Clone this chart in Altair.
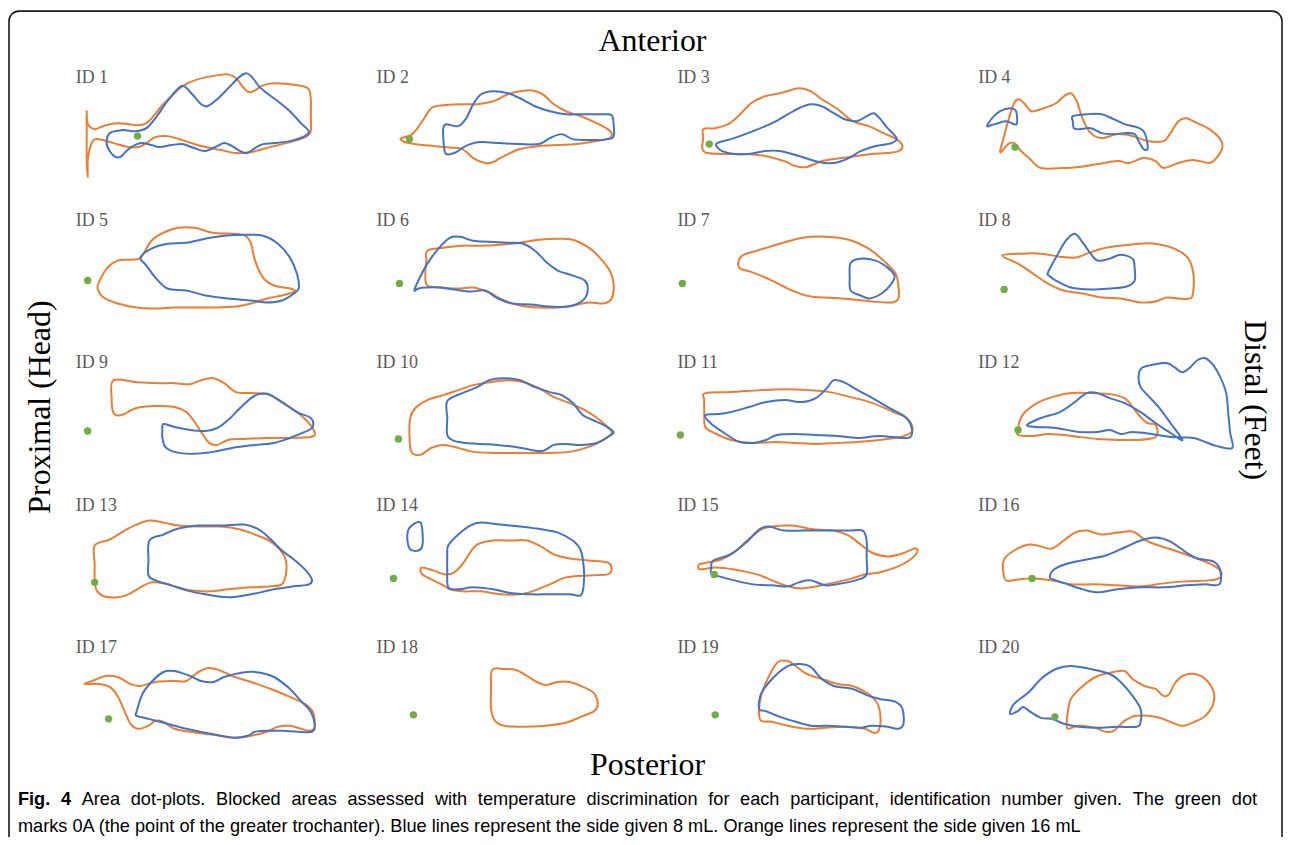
import altair as alt
import pandas as pd

# ---------------- data: outlines in each panel's local frame (x right, y down) ----------------
ID1_8 = [(40,72),(52,69),(67,70),(77,67),(86,57),(98,40),(109,27),(115,25),(123,33),(132,43),(138,45),(148,38),(159,27),(171,15),(178,12),(184,17),(190,25),(198,32),(209,40),(221,50),(232,62),(240,70),(236,75),(221,80),(205,82),(194,83),(186,87),(178,92),(171,90),(163,85),(155,82),(148,85),(136,90),(125,87),(113,83),(102,84),(90,86),(82,84),(71,82),(59,88),(52,95),(46,96),(40,90),(37,82)]
ID1_16 = [(17,50),(18,62),(25,68),(36,64),(48,62),(59,63),(69,64),(77,62),(84,55),(92,45),(102,35),(113,25),(128,18),(148,14),(159,13),(167,17),(175,27),(180,31),(186,29),(194,24),(205,22),(221,23),(234,25),(240,28),(242,37),(242,53),(242,70),(238,75),(225,80),(205,85),(182,91),(167,92),(152,89),(132,85),(113,79),(98,75),(86,76),(77,82),(69,86),(59,86),(44,82),(28,78),(23,80),(20,88),(18,100),(18,116),(17,100),(17,83),(17,67)]
ID2_8 = [(73,67),(76,63),(88,65),(96,57),(103,43),(111,33),(123,30),(138,32),(150,37),(165,45),(180,50),(196,53),(215,53),(234,53),(242,54),(244,63),(244,75),(238,78),(219,79),(203,78),(192,73),(180,77),(169,83),(150,83),(130,82),(111,81),(100,83),(92,87),(84,92),(76,93),(74,88),(73,77)]
ID2_16 = [(31,77),(42,73),(52,60),(61,47),(73,44),(92,43),(107,43),(123,40),(138,33),(150,30),(161,29),(173,33),(184,43),(196,50),(211,55),(227,62),(238,68),(242,72),(240,77),(227,80),(207,83),(188,84),(169,85),(150,88),(134,95),(123,101),(115,102),(103,97),(92,88),(73,86),(53,84),(38,82),(31,79)]
ID3_8 = [(46,82),(63,77),(82,70),(101,62),(117,53),(128,47),(140,43),(151,45),(163,52),(174,58),(186,60),(196,55),(203,52),(209,57),(217,67),(226,77),(221,82),(205,85),(190,90),(178,97),(163,102),(148,101),(128,95),(109,90),(94,90),(78,93),(63,93),(51,90),(46,86)]
ID3_16 = [(32,68),(44,67),(57,63),(69,53),(80,42),(94,35),(109,32),(128,27),(140,30),(151,38),(167,48),(182,60),(198,65),(213,72),(226,78),(232,85),(228,90),(217,92),(201,93),(186,95),(171,97),(151,100),(136,106),(124,105),(113,100),(94,95),(75,93),(55,93),(36,92),(31,87),(32,77)]
ID4_8A = [(15,65),(20,57),(28,50),(38,47),(44,50),(45,62),(42,63),(34,60),(26,62),(19,64)]
ID4_8B = [(101,55),(115,53),(130,53),(142,58),(153,63),(165,66),(172,70),(175,78),(176,88),(172,88),(167,80),(163,73),(153,72),(142,73),(130,72),(119,67),(107,68),(102,67),(101,60)]
ID4_16 = [(28,90),(32,75),(36,60),(42,42),(47,38),(53,43),(59,50),(69,48),(84,42),(92,35),(99,32),(105,40),(111,58),(119,72),(130,77),(146,73),(161,75),(176,80),(192,80),(199,72),(207,60),(215,57),(226,62),(238,68),(249,78),(251,87),(245,97),(238,102),(222,99),(207,102),(192,107),(184,100),(172,97),(157,102),(146,100),(126,103),(107,106),(92,107),(69,107),(57,97),(49,90),(42,82),(36,83),(30,90)]
ID5_8 = [(71,54),(82,45),(98,40),(117,39),(136,35),(155,32),(175,31),(194,32),(209,40),(221,54),(228,70),(230,84),(225,90),(213,97),(198,99),(182,97),(159,95),(136,92),(117,87),(98,85),(86,74),(77,62)]
ID5_16 = [(28,85),(30,77),(38,64),(48,57),(61,56),(71,54),(82,37),(94,29),(109,24),(125,24),(144,29),(163,30),(176,32),(182,40),(186,57),(194,74),(205,82),(221,85),(226,88),(213,92),(198,95),(182,100),(167,103),(144,104),(125,104),(105,104),(86,105),(67,104),(48,100),(34,94)]
ID6_8 = [(44,87),(48,77),(57,60),(69,44),(80,34),(90,33),(103,37),(119,38),(138,39),(153,40),(165,47),(177,59),(188,67),(203,72),(215,77),(218,87),(213,97),(199,103),(180,103),(161,101),(142,100),(126,94),(115,87),(100,88),(84,86),(69,84),(55,84),(48,85)]
ID6_16 = [(57,47),(73,44),(92,42),(111,42),(130,41),(150,39),(169,36),(188,35),(203,36),(219,44),(230,54),(240,67),(244,80),(242,95),(234,100),(219,99),(203,102),(188,104),(169,104),(150,102),(134,97),(119,89),(103,84),(88,85),(73,84),(57,82),(55,70),(56,57)]
ID7_8 = [(180,59),(190,55),(205,57),(217,64),(224,72),(221,80),(211,90),(199,95),(190,92),(180,87),(179,74)]
ID7_16 = [(67,60),(71,52),(86,47),(109,40),(132,34),(155,33),(178,36),(198,45),(213,57),(225,70),(228,84),(228,95),(221,99),(201,98),(171,95),(140,93),(121,87),(101,77),(82,69),(69,65)]
ID8_8 = [(76,69),(84,54),(94,37),(103,30),(111,39),(119,50),(126,57),(138,55),(149,51),(161,55),(163,64),(163,77),(155,83),(138,85),(119,86),(99,84),(84,77),(77,72)]
ID8_16 = [(30,52),(49,50),(69,50),(88,53),(103,54),(115,50),(130,45),(149,42),(169,40),(184,40),(203,45),(217,55),(222,70),(222,87),(219,95),(207,95),(195,94),(184,98),(169,99),(149,95),(130,94),(111,90),(92,87),(76,80),(61,70),(46,60)]
ID9_8 = [(94,78),(105,81),(121,84),(136,85),(148,82),(159,74),(171,62),(182,52),(190,48),(200,48),(213,56),(228,66),(242,72),(244,81),(236,86),(221,92),(205,97),(186,99),(163,102),(144,106),(121,108),(105,106),(96,101),(93,92),(93,84)]
ID9_16 = [(44,34),(67,36),(90,37),(105,37),(121,38),(132,34),(144,32),(155,37),(167,46),(182,47),(198,48),(213,56),(228,66),(240,77),(246,87),(242,91),(221,92),(198,92),(175,93),(159,94),(148,99),(140,97),(134,89),(126,77),(117,66),(105,61),(86,60),(67,62),(52,69),(44,67),(42,52)]
ID10_8 = [(77,55),(92,47),(107,41),(119,34),(134,32),(150,34),(165,41),(180,46),(192,49),(203,57),(213,69),(223,74),(234,79),(244,86),(238,91),(227,97),(211,99),(196,98),(184,99),(173,105),(161,104),(146,101),(127,99),(111,98),(96,97),(84,95),(77,89),(77,72)]
ID10_16 = [(40,71),(46,61),(57,54),(73,49),(88,44),(103,39),(119,36),(138,34),(153,36),(169,42),(184,51),(200,57),(215,64),(226,71),(238,81),(242,87),(234,94),(219,101),(200,106),(180,107),(161,107),(142,107),(123,107),(103,106),(88,102),(73,99),(61,102),(50,109),(41,106),(39,89)]
ID11_8 = [(34,69),(47,68),(60,66),(78,61),(95,56),(114,54),(131,56),(145,52),(156,42),(163,34),(173,36),(187,44),(202,52),(219,62),(235,71),(241,81),(240,91),(230,92),(209,90),(187,92),(166,90),(145,89),(124,88),(106,89),(95,94),(82,97),(68,96),(53,87),(39,77)]
ID11_16 = [(34,47),(60,46),(89,44),(114,43),(138,44),(159,46),(180,51),(202,57),(223,66),(236,72),(242,81),(240,87),(230,91),(209,94),(187,96),(166,97),(145,98),(124,97),(103,96),(82,97),(60,94),(43,87),(34,81),(33,67),(33,54)]
ID12_8 = [(55,79),(69,72),(88,66),(103,56),(115,47),(126,47),(138,52),(153,57),(169,66),(184,77),(199,87),(211,94),(199,77),(188,62),(176,49),(169,41),(167,31),(170,22),(184,18),(196,17),(203,21),(211,26),(219,21),(226,14),(234,12),(242,19),(249,31),(255,47),(257,67),(259,87),(261,102),(245,100),(222,92),(199,91),(180,88),(161,86),(149,88),(138,84),(126,86),(107,86),(84,82),(65,81)]
ID12_16 = [(48,74),(53,66),(65,57),(80,51),(99,47),(119,47),(138,48),(153,52),(161,61),(169,71),(176,77),(184,79),(186,87),(182,92),(165,94),(146,94),(126,93),(107,91),(92,89),(76,88),(61,90),(46,89),(46,82)]
ID13_8 = [(80,52),(94,46),(109,40),(129,37),(152,37),(175,36),(190,41),(202,51),(213,62),(225,71),(236,81),(243,91),(240,96),(225,98),(205,101),(182,106),(159,109),(136,106),(117,102),(102,97),(86,92),(79,87),(79,72)]
ID13_16 = [(25,57),(40,51),(55,42),(67,36),(80,32),(94,34),(109,37),(129,38),(152,38),(171,41),(186,46),(200,52),(211,61),(217,72),(217,86),(213,96),(202,98),(182,99),(159,101),(140,103),(121,102),(105,98),(94,95),(82,94),(71,99),(59,106),(48,109),(34,108),(27,102),(25,92),(25,76)]
ID14_8A = [(38,41),(44,35),(50,34),(52,42),(52,57),(48,62),(40,61),(37,52)]
ID14_8B = [(78,57),(88,46),(100,37),(111,34),(130,36),(150,38),(173,41),(188,44),(203,52),(211,62),(214,79),(214,96),(211,107),(200,106),(180,106),(161,106),(142,105),(123,101),(103,99),(88,101),(78,99),(77,82),(77,66)]
ID14_16 = [(52,79),(63,82),(75,86),(84,84),(92,76),(100,64),(107,56),(123,52),(142,52),(157,52),(173,59),(184,66),(200,70),(219,72),(238,74),(242,81),(238,86),(219,87),(196,89),(180,96),(165,102),(150,106),(130,106),(111,103),(92,103),(80,101),(73,97),(61,91),(52,86),(50,82)]
ID15_8 = [(40,79),(42,72),(59,66),(75,54),(88,41),(98,38),(113,42),(132,42),(155,42),(178,42),(192,42),(196,52),(196,69),(196,86),(188,91),(171,95),(155,97),(140,92),(128,94),(117,98),(101,97),(82,96),(63,92),(48,88),(40,85)]
ID15_16 = [(28,76),(36,74),(50,71),(63,64),(76,52),(90,41),(101,38),(121,37),(144,41),(163,42),(178,47),(190,56),(201,64),(217,68),(232,65),(244,60),(247,63),(240,71),(225,79),(209,84),(194,86),(178,91),(155,96),(132,100),(117,98),(101,92),(86,86),(63,81),(44,79),(29,81),(27,78)]
ID16_8 = [(78,89),(82,81),(96,75),(115,71),(134,67),(153,59),(169,52),(184,49),(199,53),(215,64),(226,70),(242,73),(249,82),(248,96),(234,96),(215,97),(192,99),(169,99),(146,101),(126,104),(111,101),(96,96),(84,92)]
ID16_16 = [(32,71),(42,62),(57,56),(69,58),(80,60),(92,52),(103,44),(115,42),(130,46),(146,44),(161,43),(173,51),(184,56),(203,62),(223,69),(238,75),(249,82),(249,89),(238,92),(215,93),(192,95),(169,98),(146,97),(123,96),(99,96),(80,92),(61,90),(46,91),(34,92),(31,82)]
ID17_8 = [(67,81),(73,63),(82,51),(94,41),(105,40),(121,45),(132,50),(144,51),(155,46),(171,42),(186,41),(205,46),(221,58),(232,70),(242,81),(246,95),(243,101),(229,101),(213,100),(198,100),(186,101),(179,105),(167,107),(152,105),(136,102),(117,98),(98,93),(79,88),(67,85)]
ID17_16 = [(15,53),(25,49),(36,45),(48,46),(61,53),(71,55),(86,51),(105,50),(117,50),(129,41),(140,37),(152,40),(163,45),(182,51),(202,58),(221,66),(236,73),(244,81),(246,95),(242,100),(232,98),(221,95),(209,96),(198,101),(182,105),(163,107),(144,104),(121,101),(105,98),(94,91),(86,90),(79,95),(69,98),(61,93),(54,78),(48,65),(40,56),(29,53)]
ID18_16 = [(122,39),(134,38),(146,39),(157,45),(169,52),(177,54),(188,51),(200,51),(211,55),(223,61),(228,71),(225,80),(211,86),(196,92),(176,95),(153,96),(134,95),(125,90),(121,78),(121,58)]
ID19_8 = [(88,78),(90,63),(101,48),(115,36),(128,33),(140,36),(151,48),(163,55),(182,58),(198,65),(209,68),(225,71),(232,78),(233,93),(228,98),(217,96),(201,95),(190,97),(175,96),(155,95),(140,95),(125,91),(109,86),(94,80)]
ID19_16 = [(88,81),(90,65),(98,45),(107,31),(117,30),(126,36),(136,43),(151,48),(167,53),(182,55),(198,63),(207,73),(210,88),(208,100),(203,102),(194,98),(175,96),(155,97),(136,98),(117,95),(101,91),(90,90)]
ID20_8 = [(38,83),(42,73),(57,61),(69,48),(84,38),(99,35),(119,38),(138,43),(149,51),(161,65),(169,78),(169,91),(165,96),(146,96),(126,97),(107,96),(92,93),(80,88),(69,87),(57,80),(51,76),(46,80)]
ID20_16 = [(96,81),(99,68),(111,55),(126,45),(142,41),(153,40),(161,48),(173,55),(184,58),(192,65),(198,63),(203,53),(211,45),(223,43),(234,48),(242,60),(242,73),(234,85),(223,91),(211,95),(199,91),(184,86),(165,85),(153,90),(142,100),(134,101),(123,97),(107,95),(96,98),(95,90)]

OUTLINES = [
    (1, "16 mL", ID1_16), (1, "8 mL", ID1_8),
    (2, "16 mL", ID2_16), (2, "8 mL", ID2_8),
    (3, "16 mL", ID3_16), (3, "8 mL", ID3_8),
    (4, "16 mL", ID4_16), (4, "8 mL", ID4_8A), (4, "8 mL", ID4_8B),
    (5, "16 mL", ID5_16), (5, "8 mL", ID5_8),
    (6, "16 mL", ID6_16), (6, "8 mL", ID6_8),
    (7, "16 mL", ID7_16), (7, "8 mL", ID7_8),
    (8, "16 mL", ID8_16), (8, "8 mL", ID8_8),
    (9, "16 mL", ID9_16), (9, "8 mL", ID9_8),
    (10, "16 mL", ID10_16), (10, "8 mL", ID10_8),
    (11, "16 mL", ID11_16), (11, "8 mL", ID11_8),
    (12, "16 mL", ID12_16), (12, "8 mL", ID12_8),
    (13, "16 mL", ID13_16), (13, "8 mL", ID13_8),
    (14, "16 mL", ID14_16), (14, "8 mL", ID14_8A), (14, "8 mL", ID14_8B),
    (15, "16 mL", ID15_16), (15, "8 mL", ID15_8),
    (16, "16 mL", ID16_16), (16, "8 mL", ID16_8),
    (17, "16 mL", ID17_16), (17, "8 mL", ID17_8),
    (18, "16 mL", ID18_16),
    (19, "16 mL", ID19_16), (19, "8 mL", ID19_8),
    (20, "16 mL", ID20_16), (20, "8 mL", ID20_8),
]

PANEL_IDS = list(range(1, 21))
# green dot (0A, greater trochanter) in each panel's local frame
DOT_X = [68, 39, 38, 43, 18, 29, 11, 32, 18, 28, 9, 46, 25, 23, 43, 60, 39, 43, 44, 83]
DOT_Y = [75, 78, 83, 86, 77, 80, 80, 86, 85, 93, 89, 84, 94, 90, 86, 90, 88, 84, 84, 86]

SIDES = ["8 mL", "16 mL"]
SIDE_COLORS = ["#4472C4", "#ED7D31"]

CAPTION_1 = "Fig. 4 Area dot-plots. Blocked areas assessed with temperature discrimination for each participant, identification number given. The green dot"
CAPTION_2 = "marks 0A (the point of the greater trochanter). Blue lines represent the side given 8 mL. Orange lines represent the side given 16 mL"

# ---------------- layout constants ----------------
COL_STEP, ROW_STEP = 302, 143
W, H = 1281, 829
XS = alt.Scale(domain=[-62, W - 62], nice=False, zero=False)
YS = alt.Scale(domain=[-52, H - 52], nice=False, zero=False, reverse=True)
SERIF = "Liberation Serif"
SANS = "Liberation Sans"
CAP_SIZE = 18.25

rows = []
for k, (pid, side, pts) in enumerate(OUTLINES):
    for j, (x, y) in enumerate(pts):
        rows.append({"id": pid, "side": side, "piece": k, "order": j, "lx": x, "ly": y})
lines_df = pd.DataFrame(rows)
dots_df = pd.DataFrame({"id": PANEL_IDS, "lx": DOT_X, "ly": DOT_Y})
labels_df = pd.DataFrame({"id": PANEL_IDS})


def on_grid(df):
    return alt.Chart(df).transform_calculate(
        col="(datum.id - 1) % 4",
        row="floor((datum.id - 1) / 4)",
    )


xy = dict(
    x=alt.X("X:Q", scale=XS, axis=None),
    y=alt.Y("Y:Q", scale=YS, axis=None),
)

lines = on_grid(lines_df).transform_calculate(
    X=f"datum.col * {COL_STEP} + datum.lx",
    Y=f"datum.row * {ROW_STEP} + datum.ly",
).mark_line(interpolate="cardinal-closed", strokeWidth=2).encode(
    color=alt.Color("side:N", scale=alt.Scale(domain=SIDES, range=SIDE_COLORS), legend=None),
    detail="piece:N",
    order="order:Q",
    **xy,
)

dots = on_grid(dots_df).transform_calculate(
    X=f"datum.col * {COL_STEP} + datum.lx",
    Y=f"datum.row * {ROW_STEP} + datum.ly",
).mark_circle(size=55, color="#70AD47", opacity=1).encode(**xy)

labels = on_grid(labels_df).transform_calculate(
    X=f"datum.col * {COL_STEP} + 6",
    Y=f"datum.row * {ROW_STEP} + 22",
    label="'ID ' + datum.id",
).mark_text(align="left", baseline="alphabetic", font=SERIF, fontSize=18, color="#595959").encode(
    text="label:N", **xy
)


def note(text, x, y, **kw):
    return alt.Chart(pd.DataFrame({"t": [text]})).mark_text(**kw).encode(
        x=alt.value(x), y=alt.value(y), text="t:N"
    )


border = alt.Chart(pd.DataFrame({"a": [0]})).mark_rect(
    fill="white", fillOpacity=0, stroke="#1a1a1a", strokeWidth=1.6, cornerRadius=10
).encode(x=alt.value(1), x2=alt.value(1279), y=alt.value(1.5), y2=alt.value(900))

title_kw = dict(font=SERIF, fontSize=32, color="black")
anterior = note("Anterior", 647, 42, align="center", baseline="alphabetic", **title_kw)
posterior = note("Posterior", 642, 768, align="center", baseline="alphabetic", **title_kw)
proximal = note("Proximal (Head)", 32, 399, align="center", baseline="middle", angle=270, **title_kw)
distal = note("Distal (Feet)", 1252, 392, align="center", baseline="middle", angle=90, **title_kw)

# justified first caption line: word positions from Liberation Sans (Arial-metric) advance widths
REG = {'a': .556, 'b': .556, 'c': .5, 'd': .556, 'e': .556, 'f': .278, 'g': .556, 'h': .556, 'i': .222,
       'j': .222, 'k': .5, 'l': .222, 'm': .833, 'n': .556, 'o': .556, 'p': .556, 'q': .556, 'r': .333,
       's': .5, 't': .278, 'u': .556, 'v': .5, 'w': .722, 'x': .5, 'y': .5, 'z': .5, 'A': .667, 'B': .667,
       'T': .611, 'O': .778, 'L': .556, 'F': .611, '.': .278, ',': .278, '-': .333, '(': .333, ')': .333}
BOLD = {'F': .611, 'i': .278, 'g': .611, '.': .278}


def width(word, bold):
    table = BOLD if bold else REG
    return sum(table.get(c, .556) for c in word) * CAP_SIZE


words = CAPTION_1.split(" ")
bold_flags = [i < 2 for i in range(len(words))]
widths = [width(w_, b) for w_, b in zip(words, bold_flags)]
left, right = 10, 1254
gap = (right - left - sum(widths)) / (len(words) - 1)
xs, cur = [], left
for wd in widths:
    xs.append(cur)
    cur += wd + gap
cap1_df = pd.DataFrame({"word": words, "x": xs, "bold": bold_flags})

cap1_bold = alt.Chart(cap1_df[cap1_df["bold"]]).mark_text(
    align="left", baseline="alphabetic", font=SANS, fontSize=CAP_SIZE, fontWeight="bold", color="black"
).encode(x=alt.X("x:Q", scale=None), y=alt.value(798), text="word:N")
cap1_reg = alt.Chart(cap1_df[~cap1_df["bold"]]).mark_text(
    align="left", baseline="alphabetic", font=SANS, fontSize=CAP_SIZE, color="black"
).encode(x=alt.X("x:Q", scale=None), y=alt.value(798), text="word:N")
cap2 = note(CAPTION_2, 10, 826, align="left", baseline="alphabetic", font=SANS, fontSize=CAP_SIZE, color="black")

chart = alt.layer(
    border, lines, dots, labels, anterior, posterior, proximal, distal, cap1_bold, cap1_reg, cap2
).properties(
    width=W, height=H, padding=0, autosize=alt.AutoSizeParams(type="none")
).configure_view(strokeWidth=0)

chart.save("out.html", embed_options={"renderer": "svg", "actions": False})
